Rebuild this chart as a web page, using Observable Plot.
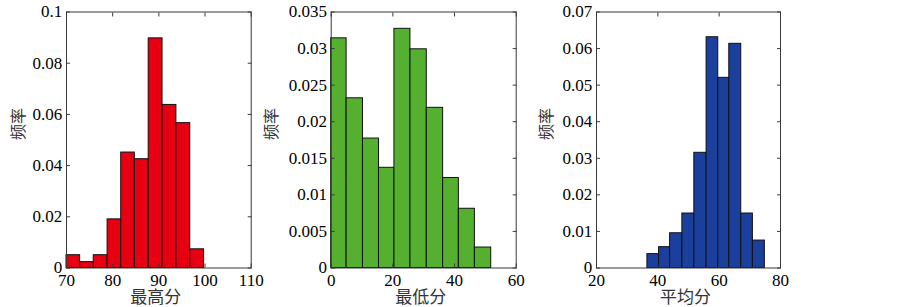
<!DOCTYPE html>
<html>
<head>
<meta charset="utf-8">
<script src="https://cdn.jsdelivr.net/npm/d3@7"></script>
<script src="https://cdn.jsdelivr.net/npm/@observablehq/plot@0.6"></script>
<style>
  html, body { margin: 0; padding: 0; background: #fff; }
  #wrap { position: relative; width: 903px; height: 307px; overflow: hidden; }
  .panel { position: absolute; top: 0; }
  .panel svg { overflow: visible; }
</style>
</head>
<body>
<div id="wrap"></div>
<script>
// ---- Data ----
// Panel 1: 最高分
const maxEdges = [70, 72.95, 75.9, 78.9, 81.85, 84.8, 87.8, 90.8, 93.8, 96.8, 99.8];
const maxFreq  = [0.005, 0.0023, 0.005, 0.019, 0.0451, 0.0425, 0.0897, 0.0637, 0.0566, 0.0073];
const maxXTicks = [70, 80, 90, 100, 110];
const maxYTicks = [0, 0.02, 0.04, 0.06, 0.08, 0.1];

// Panel 2: 最低分
const minEdges = [0, 5.0, 10.3, 15.5, 20.5, 25.7, 31.0, 36.3, 41.4, 46.6, 51.9];
const minFreq  = [0.0314, 0.0232, 0.0177, 0.0137, 0.0327, 0.0299, 0.0219, 0.0123, 0.0081, 0.0028];
const minXTicks = [0, 20, 40, 60];
const minYTicks = [0, 0.005, 0.01, 0.015, 0.02, 0.025, 0.03, 0.035];

// Panel 3: 平均分
const avgEdges = [36.6, 40.4, 44.0, 48.0, 51.9, 55.9, 59.7, 63.3, 67.2, 71.0, 74.9];
const avgFreq  = [0.0038, 0.0057, 0.0095, 0.0149, 0.0315, 0.0631, 0.052, 0.0613, 0.0149, 0.0075];
const avgXTicks = [20, 40, 60, 80];
const avgYTicks = [0, 0.01, 0.02, 0.03, 0.04, 0.05, 0.06, 0.07];

const yLabel = "频率";

function toBins(edges, freq) {
  return freq.map((f, i) => ({x1: edges[i], x2: edges[i + 1], y: f}));
}

const numFont = "Liberation Serif";
const cjkFont = "Noto Sans CJK SC";

function panel({left, width, mLeft, mRight, xDomain, yDomain, xTicks, yTicks, bins, color, xLabel, yLabelDx}) {
  const fmt = d => String(d);
  const tickStyle = {fontFamily: numFont, fontSize: 17, fill: "#000", label: null, tickFormat: fmt};
  const chart = Plot.plot({
    width, height: 307,
    marginLeft: mLeft, marginRight: mRight, marginTop: 11.5, marginBottom: 39.5,
    style: {background: "transparent"},
    x: {domain: xDomain},
    y: {domain: yDomain},
    marks: [
      Plot.rectY(bins, {x1: "x1", x2: "x2", y: "y", fill: color, stroke: "#111", strokeWidth: 1, inset: 0}),
      Plot.frame({stroke: "#3a3a3a", strokeWidth: 1}),
      // inward ticks on all four sides
      Plot.axisX(xTicks, {anchor: "bottom", tickSize: -4, fill: "none", stroke: "#3a3a3a", label: null}),
      Plot.axisX(xTicks, {anchor: "top", tickSize: -4, fill: "none", stroke: "#3a3a3a", label: null}),
      Plot.axisY(yTicks, {anchor: "left", tickSize: -4, fill: "none", stroke: "#3a3a3a", label: null}),
      Plot.axisY(yTicks, {anchor: "right", tickSize: -4, fill: "none", stroke: "#3a3a3a", label: null}),
      // tick labels
      Plot.axisX(xTicks, {anchor: "bottom", tickSize: 0, tickPadding: 5.5, ...tickStyle}),
      Plot.axisY(yTicks, {anchor: "left", tickSize: 0, tickPadding: 4.3, ...tickStyle}),
      // axis titles
      Plot.text([xLabel], {frameAnchor: "bottom", dy: 30, dx: -3, text: d => d, fontFamily: cjkFont, fontSize: 17, fill: "#333", lineAnchor: "middle"}),
      Plot.text([yLabel], {frameAnchor: "left", dx: yLabelDx, rotate: -90, text: d => d, fontFamily: cjkFont, fontSize: 16, fill: "#333", lineAnchor: "middle"})
    ]
  });
  const div = document.createElement("div");
  div.className = "panel";
  div.style.left = left + "px";
  div.appendChild(chart);
  document.getElementById("wrap").appendChild(div);
}

panel({left: 0, width: 264, mLeft: 66, mRight: 13.3, xDomain: [70, 110], yDomain: [0, 0.1],
  xTicks: maxXTicks, yTicks: maxYTicks, bins: toBins(maxEdges, maxFreq), color: "#e60012", xLabel: "最高分", yLabelDx: -48});
panel({left: 263, width: 268, mLeft: 67.7, mRight: 15.3, xDomain: [0, 60], yDomain: [0, 0.035],
  xTicks: minXTicks, yTicks: minYTicks, bins: toBins(minEdges, minFreq), color: "#55b030", xLabel: "最低分", yLabelDx: -59.5});
panel({left: 531, width: 372, mLeft: 65, mRight: 123, xDomain: [20, 80], yDomain: [0, 0.07],
  xTicks: avgXTicks, yTicks: avgYTicks, bins: toBins(avgEdges, avgFreq), color: "#1b3f9c", xLabel: "平均分", yLabelDx: -49.5});
</script>
</body>
</html>
